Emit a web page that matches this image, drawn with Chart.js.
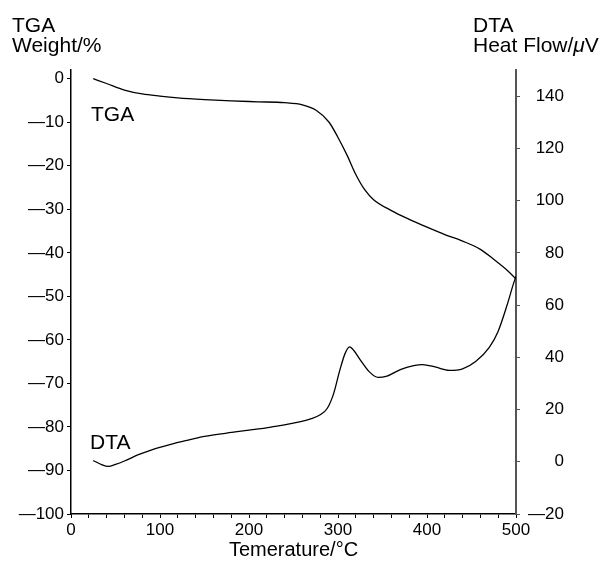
<!DOCTYPE html>
<html>
<head>
<meta charset="utf-8">
<script src="https://cdn.jsdelivr.net/npm/chart.js@4/dist/chart.umd.min.js"></script>
<style>
  html, body { margin: 0; padding: 0; background: #fff; }
  #wrap { width: 606px; height: 565px; }
</style>
</head>
<body>
<div id="wrap"><canvas id="tgaChart" width="606" height="565"></canvas></div>
<script>
// TGA weight loss (left axis, %)
var tgaTemp = [25, 40, 60, 80, 100, 120, 150, 180, 210, 240, 260, 275, 290, 300, 310, 320, 330, 340, 360, 380, 400, 420, 440, 460, 475, 490, 500];
var tgaWeight = [0, -1.1, -2.6, -3.5, -4.0, -4.4, -4.8, -5.1, -5.3, -5.5, -6.0, -7.2, -10, -13.5, -17.5, -22, -25.5, -27.8, -30.3, -32.3, -34.1, -35.8, -37.3, -39.2, -41.5, -44, -46];

// DTA heat flow (right axis, uV)
var dtaTemp = [25, 35, 42, 50, 60, 75, 90, 110, 130, 150, 175, 200, 225, 250, 270, 280, 288, 295, 302, 308, 313, 318, 325, 335, 345, 355, 370, 385, 395, 410, 425, 440, 455, 470, 480, 490, 497, 500];
var dtaFlow = [0.5, -1.2, -1.8, -1.0, 0.3, 2.6, 4.5, 6.5, 8.2, 9.7, 11.0, 12.1, 13.3, 14.8, 16.5, 18.0, 20.5, 26, 35, 41.5, 44, 42.5, 39, 34.5, 32.3, 32.8, 35.3, 36.8, 37.2, 36.2, 35.0, 35.6, 38.5, 43.8, 50, 60, 68, 71];

// tick values
var weightTicks = [0, -10, -20, -30, -40, -50, -60, -70, -80, -90, -100];
var flowTicks = [-20, 0, 20, 40, 60, 80, 100, 120, 140];

function toPoints(xs, ys) {
  return xs.map(function(x, i) { return { x: x, y: ys[i] }; });
}

function tickLabel(v) {
  return v < 0 ? '\u2014' + Math.abs(v) : String(v);
}

var fontFamily = '"Liberation Sans", Arial, Helvetica, sans-serif';

// titles and curve names
var textPlugin = {
  id: 'labels',
  afterDraw: function(chart) {
    var c = chart.ctx;
    c.save();
    c.fillStyle = '#000';
    c.textBaseline = 'alphabetic';
    c.textAlign = 'left';
    c.font = '21px ' + fontFamily;
    c.fillText('TGA', 12, 32);
    c.fillText('Weight/%', 12, 52);
    c.fillText('DTA', 473, 32);
    var x = 473;
    c.fillText('Heat Flow/', x, 52);
    x += c.measureText('Heat Flow/').width;
    c.font = 'italic 21px ' + fontFamily;
    c.fillText('\u03bc', x, 52);
    x += c.measureText('\u03bc').width;
    c.font = '21px ' + fontFamily;
    c.fillText('V', x, 52);
    c.fillText('TGA', 91, 121);
    c.fillText('DTA', 90, 449);
    c.restore();
  }
};

var ctx = document.getElementById('tgaChart').getContext('2d');

var myChart = new Chart(ctx, {
  type: 'line',
  data: {
    datasets: [{
      label: 'TGA',
      data: toPoints(tgaTemp, tgaWeight),
      yAxisID: 'y',
      borderColor: '#000',
      borderWidth: 1.3,
      pointRadius: 0,
      fill: false,
      cubicInterpolationMode: 'monotone'
    }, {
      label: 'DTA',
      data: toPoints(dtaTemp, dtaFlow),
      yAxisID: 'y2',
      borderColor: '#000',
      borderWidth: 1.3,
      pointRadius: 0,
      fill: false,
      cubicInterpolationMode: 'monotone'
    }]
  },
  options: {
    responsive: false,
    animation: false,
    layout: { padding: { top: 70, left: 0, right: 42, bottom: 0 } },
    plugins: {
      legend: { display: false },
      tooltip: { enabled: false }
    },
    scales: {
      x: {
        type: 'linear',
        position: 'bottom',
        min: 0,
        max: 500,
        afterFit: function(s) { s.height = 51; },
        ticks: {
          stepSize: 20,
          autoSkip: false,
          maxRotation: 0,
          padding: 2,
          color: '#000',
          font: { family: fontFamily, size: 17 },
          callback: function(v) { return v % 100 === 0 ? String(v) : ''; }
        },
        grid: { drawOnChartArea: false, tickLength: 4, color: '#000', lineWidth: 1 },
        border: { color: '#000', width: 1.5 },
        title: {
          display: true,
          text: 'Temerature/\u00b0C',
          color: '#000',
          font: { family: fontFamily, size: 20 },
          padding: { top: 0, bottom: 3 }
        }
      },
      y: {
        position: 'left',
        min: -100,
        max: 2,
        afterFit: function(s) { s.width = 71; },
        afterBuildTicks: function(s) {
          s.ticks = weightTicks.map(function(v) { return { value: v }; });
        },
        ticks: {
          padding: 3,
          color: '#000',
          font: { family: fontFamily, size: 17 },
          callback: tickLabel
        },
        grid: { drawOnChartArea: false, tickLength: 4, color: '#000' },
        border: { color: '#000', width: 1.5 }
      },
      y2: {
        position: 'right',
        min: -20,
        max: 150,
        afterFit: function(s) { s.width = 48; },
        afterBuildTicks: function(s) {
          s.ticks = flowTicks.map(function(v) { return { value: v }; });
        },
        ticks: {
          padding: 10,
          crossAlign: 'far',
          color: '#000',
          font: { family: fontFamily, size: 17 },
          callback: tickLabel
        },
        grid: { drawOnChartArea: false, tickLength: 4, color: '#555' },
        border: { color: '#555', width: 2 }
      }
    }
  },
  plugins: [textPlugin]
});
</script>
</body>
</html>
